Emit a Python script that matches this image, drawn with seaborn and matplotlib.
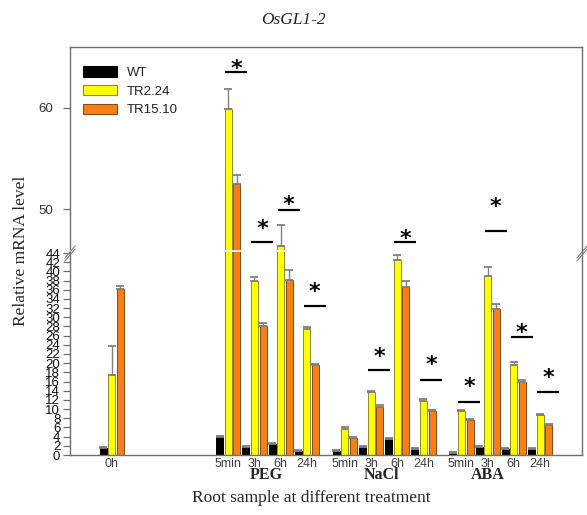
import numpy as np
import pandas as pd
import matplotlib
matplotlib.use("Agg")
import matplotlib.pyplot as plt
import matplotlib.transforms as mtransforms
from matplotlib.lines import Line2D
from matplotlib.patches import Patch
import seaborn as sns

sns.set_theme(style="white")
plt.rcParams["font.family"] = ["Liberation Sans", "DejaVu Sans"]

# ---- data -------------------------------------------------------------
time_labels = ["0h",
               "5min", "3h", "6h", "24h",
               "5min", "3h", "6h", "24h",
               "5min", "3h", "6h", "24h"]
treatments = ["PEG", "NaCl", "ABA"]
lines = ["WT", "TR2.24", "TR15.10"]

wt_mean = [1.5, 3.85, 1.8, 2.4, 0.95, 0.95, 1.8, 3.55, 1.3, 0.5, 1.7, 1.3, 1.3]
tr224_mean = [17.45, 59.9, 38.0, 46.4, 27.5, 5.75, 13.7, 42.4, 11.85, 9.6, 38.9, 19.55, 8.65]
tr1510_mean = [36.2, 52.5, 28.1, 38.2, 19.6, 3.6, 10.55, 36.6, 9.65, 7.6, 31.85, 16.0, 6.55]

wt_sd = [0.2, 0.2, 0.2, 0.2, 0.2, 0.2, 0.2, 0.2, 0.2, 0.2, 0.2, 0.2, 0.2]
tr224_sd = [6.3, 2.0, 0.7, 2.0, 0.4, 0.3, 0.3, 1.1, 0.3, 0.3, 1.95, 0.8, 0.3]
tr1510_sd = [0.7, 0.85, 0.7, 2.1, 0.2, 0.3, 0.3, 1.35, 0.2, 0.3, 1.05, 0.3, 0.2]

# significance marks: group index, bar height, asterisk height
sig_groups = [1, 2, 3, 4, 6, 7, 8, 9, 10, 11, 12]
sig_line_y = [63.55, 46.77, 49.9, 32.5, 18.5, 46.7, 16.3, 11.6, 47.8, 25.7, 13.8]
sig_star_y = [64.5, 48.75, 51.05, 36.9, 22.9, 47.75, 21.1, 16.4, 50.9, 28.0, 18.2]

# ---- layout -----------------------------------------------------------
block_step = 4.45
positions = [0.0] + [block_step * (k + 1) + i for k in range(3) for i in range(4)]
treat_label_x = [5.9, 10.3, 14.35]

colors = {"WT": "#000000", "TR2.24": "#FFFF00", "TR15.10": "#F77F17"}
edges = {"WT": "#000000", "TR2.24": "#8C8A2A", "TR15.10": "#8A4A18"}

rows = []
sd_lookup = {}
for name, means, sds in zip(lines, [wt_mean, tr224_mean, tr1510_mean],
                            [wt_sd, tr224_sd, tr1510_sd]):
    for p, m, s in zip(positions, means, sds):
        rows.append({"pos": p, "value": m, "line": name})
        sd_lookup[(name, p)] = s
df = pd.DataFrame(rows)

fig = plt.figure(figsize=(5.87, 5.15), dpi=100)
L, R = 70 / 587, 582 / 587
ax_lo = fig.add_axes([L, 60 / 515, R - L, 202 / 515])
ax_hi = fig.add_axes([L, 262 / 515, R - L, 206 / 515])

XLIM = (-1.59, 17.95)
pos_arr = np.array(positions)


def draw_bars(ax):
    sns.barplot(data=df, x="pos", y="value", hue="line", hue_order=lines,
                palette=colors, saturation=1, native_scale=True, width=0.98,
                gap=0.18, errorbar=None, legend=False, linewidth=0.7, ax=ax)
    for cont, name in zip(ax.containers, lines):
        for bar in cont:
            bar.set_edgecolor(edges[name])
            cx = bar.get_x() + bar.get_width() / 2
            h = bar.get_height()
            p = pos_arr[np.argmin(np.abs(pos_arr - cx))]
            sd = sd_lookup[(name, p)]
            eb = ax.errorbar(cx, h, yerr=[[0], [sd]], fmt="none",
                             ecolor="#808080", elinewidth=1.0,
                             capsize=2.8, capthick=1.3, zorder=4)
            for cap in eb[1]:
                cap.set_color("#222222")
    ax.set_xlim(*XLIM)
    ax.set_xlabel("")
    ax.set_ylabel("")


draw_bars(ax_lo)
draw_bars(ax_hi)

ax_lo.set_ylim(0, 44)
ax_hi.set_ylim(45.66, 66.0)

frame_col = "#707070"
for ax in (ax_lo, ax_hi):
    for sp in ax.spines.values():
        sp.set_color(frame_col)
        sp.set_linewidth(1.0)
ax_lo.spines["top"].set_visible(False)
ax_hi.spines["bottom"].set_visible(False)

# lower axis ticks (every 2 units, labels packed tightly)
ax_lo.set_yticks(np.arange(0, 45, 2))
ax_lo.set_yticklabels([str(v) for v in range(0, 45, 2)], fontsize=9.5, color="#111111")
ax_lo.tick_params(axis="y", which="both", left=True, length=5, width=0.9,
                  color=frame_col, pad=2)
ax_lo.set_xticks(positions)
ax_lo.set_xticklabels(time_labels, fontsize=9, color="#404040")
ax_lo.tick_params(axis="x", length=0, pad=2)

# upper axis ticks
ax_hi.set_yticks([50, 60])
ax_hi.set_yticklabels(["50", "60"], fontsize=9.5, color="#333333")
ax_hi.tick_params(axis="y", left=True, length=5, width=0.9, color=frame_col, pad=7)
ax_hi.set_xticks([])

# white break across the tall bars
ax_hi.axhline(45.9, color="white", lw=1.3, zorder=6)

# significance marks
for g, ly, sy in zip(sig_groups, sig_line_y, sig_star_y):
    cx = positions[g] + 0.3
    ax = ax_hi if ly > 45.66 else ax_lo
    ax.plot([cx - 0.42, cx + 0.42], [ly, ly], color="black", lw=1.6,
            solid_capstyle="butt", zorder=5)
    sax = ax_hi if sy > 45.66 else ax_lo
    fs = 16
    tr = mtransforms.offset_copy(sax.transData, fig=fig, x=0, y=-0.58 * fs,
                                 units="points")
    sax.text(cx, sy, "*", transform=tr, ha="center", va="baseline",
             fontsize=fs, fontweight="bold", color="black",
             family=["DejaVu Sans"])

# treatment names under the time labels
btr = mtransforms.blended_transform_factory(ax_lo.transData, ax_lo.transAxes)
for x, t in zip(treat_label_x, treatments):
    ax_lo.text(x, -0.099, t, transform=btr, ha="center", va="center",
               fontsize=11.5, fontweight="bold", family=["Liberation Serif"])

# legend
handles = [Patch(facecolor=colors[n], edgecolor=edges[n], linewidth=0.8, label=n)
           for n in lines]
ax_hi.legend(handles=handles, loc="upper left", frameon=False,
             bbox_to_anchor=(13 / 512, 1 - 19 / 206), borderaxespad=0,
             borderpad=0, fontsize=9.5, handlelength=2.6, handleheight=0.85,
             handletextpad=0.7, labelspacing=0.45, labelcolor="#222222")

# axis break marks
for xs in (70, 582):
    for dy in (0, 3):
        x0, y0 = xs - 5, 515 - (258 + dy)
        x1, y1 = xs + 5, 515 - (246 + dy)
        fig.add_artist(Line2D([x0 / 587, x1 / 587], [y0 / 515, y1 / 515],
                              transform=fig.transFigure, color="#808080", lw=0.8))

# titles and axis labels
fig.text(293 / 587, 1 - 20 / 515, "OsGL1-2", ha="center", va="center",
         fontsize=12.5, style="italic", family=["Liberation Serif"])
fig.text(21 / 587, 0.513, "Relative mRNA level", rotation=90, ha="center",
         va="center", fontsize=12.5, family=["Liberation Serif"])
fig.text(311 / 587, 1 - 498 / 515, "Root sample at different treatment",
         ha="center", va="center", fontsize=12.5, family=["Liberation Serif"])

fig.savefig("out.png", dpi=100)
